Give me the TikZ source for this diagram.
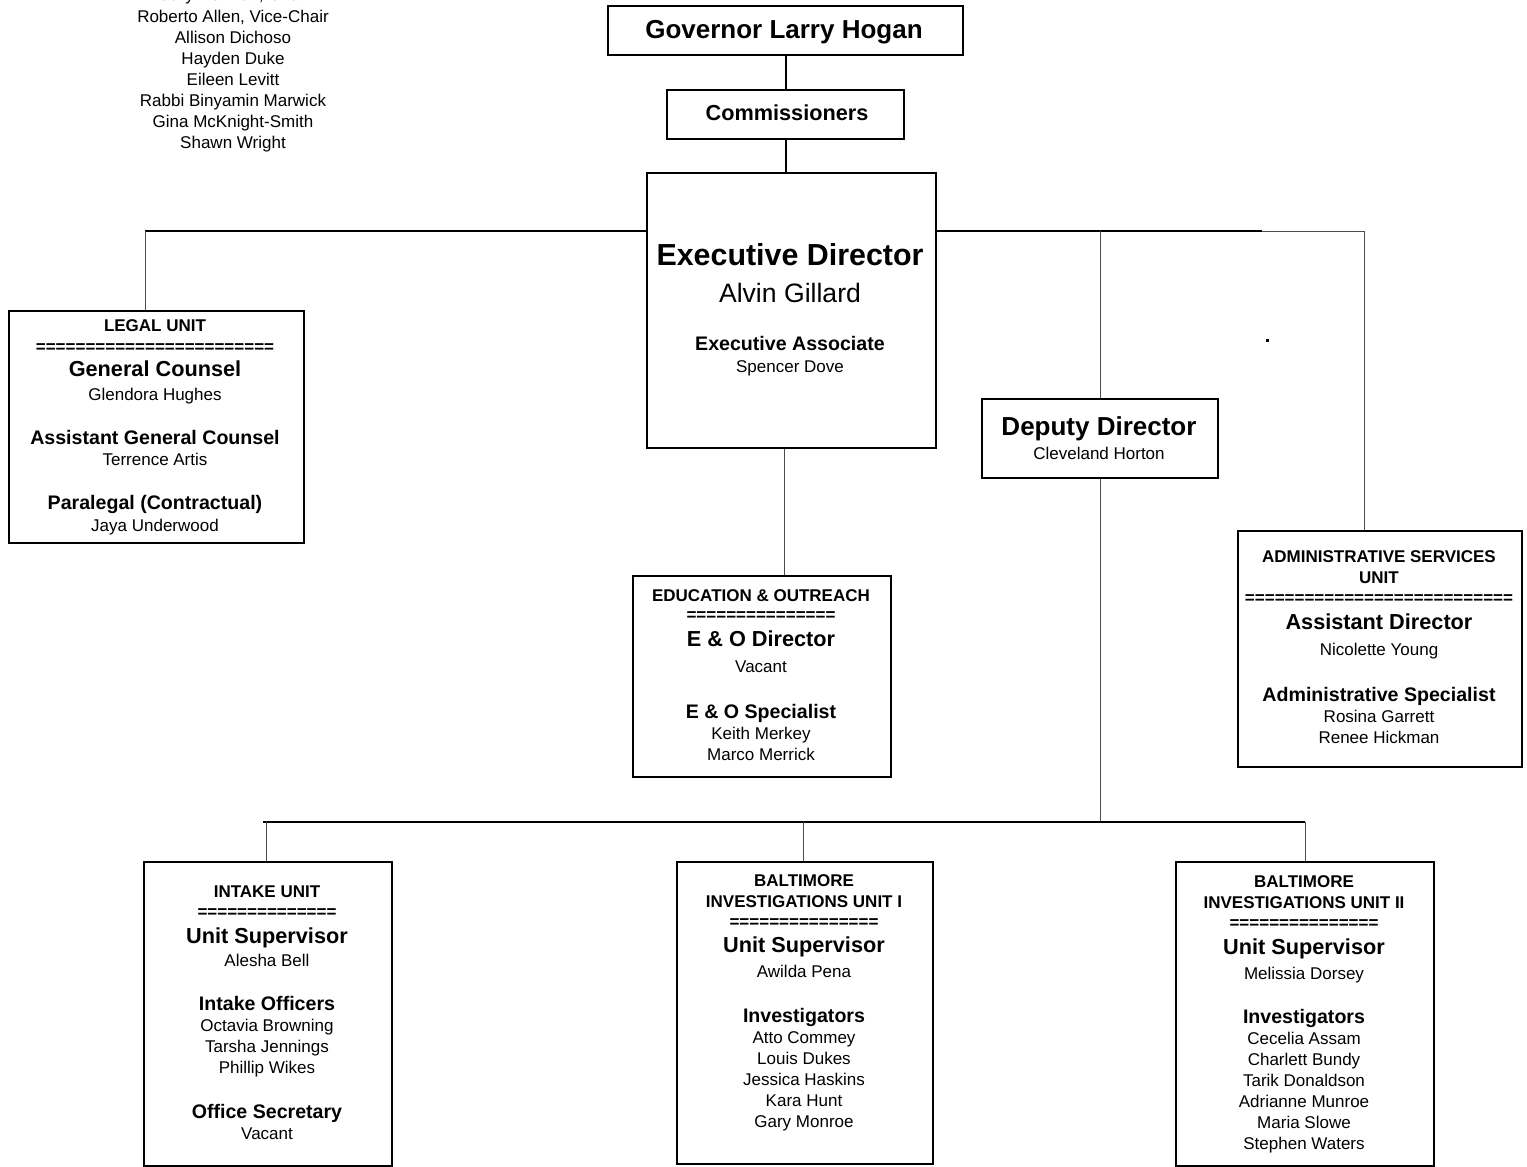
\documentclass[tikz,border=0pt]{standalone}
\usepackage{fontspec}
\setmainfont{Liberation Sans}
\newcommand\txl[5]{\node[#4] (#1) at (#2,#3) {#5};}
\tikzset{
  box/.style={draw=black, line width=2.2pt, anchor=north west, inner sep=0pt, fill=white},
  thickln/.style={draw=black, line width=2pt},
  thinln/.style={draw=black!70, line width=1pt},
  ln/.style={anchor=base, inner sep=0pt, outer sep=0pt},
  nm/.style={ln, font=\fontsize{17}{20}\selectfont, yshift=-6pt},
  hd/.style={ln, font=\bfseries\fontsize{17}{20}\selectfont, yshift=-6pt},
  eqs/.style={ln, font=\bfseries\fontsize{17}{20}\selectfont, yshift=-6pt},
  ta/.style={ln, font=\bfseries\fontsize{21.7}{26}\selectfont, yshift=-7.8pt},
  tb/.style={ln, font=\bfseries\fontsize{19.6}{24}\selectfont, yshift=-7pt},
  tbig/.style={ln, font=\bfseries\fontsize{26}{30}\selectfont, yshift=-9.3pt},
  texd/.style={ln, font=\bfseries\fontsize{30.4}{36}\selectfont, yshift=-10.9pt},
  nbig/.style={ln, font=\fontsize{26.6}{32}\selectfont, yshift=-9.5pt},
}
\begin{document}
\begin{tikzpicture}[x=1pt,y=-1pt]
\useasboundingbox[fill=white] (0,0) rectangle (1527,1167);

% ---------- boxes ----------
\node[box, minimum width=355pt, minimum height=49pt] (gov) at (607,5) {};
\node[box, minimum width=237pt, minimum height=49pt] (com) at (666,89) {};
\node[box, minimum width=289pt, minimum height=275pt] (ed) at (646,172) {};
\node[box, minimum width=236pt, minimum height=79pt] (dep) at (981,398) {};
\node[box, minimum width=295pt, minimum height=232pt] (legal) at (8,310) {};
\node[box, minimum width=258pt, minimum height=201pt] (eo) at (632,575) {};
\node[box, minimum width=284pt, minimum height=236pt] (admin) at (1237,530) {};
\node[box, minimum width=248pt, minimum height=304pt] (intake) at (143,861) {};
\node[box, minimum width=256pt, minimum height=302pt] (bone) at (676,861) {};
\node[box, minimum width=258pt, minimum height=304pt] (btwo) at (1175,861) {};

% ---------- junction coordinates ----------
\coordinate (jleft) at (145,231);
\coordinate (jmid) at (1262,231);
\coordinate (jright) at (1364,231);
\coordinate (jdep) at (1100,231);
\coordinate (jtop) at (784,231);
\coordinate (bl) at (263,822);
\coordinate (br) at (1305,822);
\coordinate (bdep) at (1100,822);

% ---------- connectors ----------
\draw[thickln] (gov.south) -- (com.north);
\draw[thickln] (com.south) -- (com.south |- ed.north);
\draw[thickln] (ed.west |- jleft) -- (jleft);
\draw[thinln] (jleft) -- (jleft |- legal.north);
\draw[thickln] (ed.east |- jmid) -- (jmid);
\draw[thinln] (jmid) -- (jright) -- (jright |- admin.north);
\draw[thinln] (jdep) -- (jdep |- dep.north);
\draw[thinln] (jtop |- ed.south) -- (jtop |- eo.north);
\draw[thinln] (dep.south -| bdep) -- (bdep);
\draw[thickln] (bl) -- (br);
\draw[thinln] (266,822) -- (266,861);
\draw[thinln] (803,822) -- (803,861);
\draw[thinln] (br) -- (br |- btwo.north);
\fill (1265.5,339) rectangle (1268.5,341.5);

% ---------- commissioner names ----------
\txl{c0}{233}{-5}{nm}{Gary Norman, Chair}
\txl{c1}{233}{16}{nm}{Roberto Allen, Vice-Chair}
\txl{c2}{233}{37}{nm}{Allison Dichoso}
\txl{c3}{233}{58}{nm}{Hayden Duke}
\txl{c4}{233}{79}{nm}{Eileen Levitt}
\txl{c5}{233}{100}{nm}{Rabbi Binyamin Marwick}
\txl{c6}{233}{121}{nm}{Gina McKnight-Smith}
\txl{c7}{233}{142}{nm}{Shawn Wright}

% ---------- top ----------
\txl{govt}{784}{29}{tbig}{Governor Larry Hogan}
\txl{comt}{787}{113}{ta}{Commissioners}

% ---------- executive director ----------
\txl{ed1}{790}{255}{texd}{Executive Director}
\txl{ed2}{790}{293}{nbig}{Alvin Gillard}
\txl{ed3}{790}{343}{tb}{Executive Associate}
\txl{ed4}{790}{366}{nm}{Spencer Dove}

% ---------- deputy ----------
\txl{dep1}{1099}{426}{tbig}{Deputy Director}
\txl{dep2}{1099}{453}{nm}{Cleveland Horton}

% ---------- legal ----------
\txl{leg1}{155}{325}{hd}{LEGAL UNIT}
\txl{leg2}{155}{346}{eqs}{========================}
\txl{leg3}{155}{369}{ta}{General Counsel}
\txl{leg4}{155}{394}{nm}{Glendora Hughes}
\txl{leg5}{155}{437}{tb}{Assistant General Counsel}
\txl{leg6}{155}{459}{nm}{Terrence Artis}
\txl{leg7}{155}{502}{tb}{Paralegal (Contractual)}
\txl{leg8}{155}{525}{nm}{Jaya Underwood}

% ---------- education & outreach ----------
\txl{eo1}{761}{595}{hd}{EDUCATION \& OUTREACH}
\txl{eo2}{761}{614}{eqs}{===============}
\txl{eo3}{761}{639}{ta}{E \& O Director}
\txl{eo4}{761}{666}{nm}{Vacant}
\txl{eo5}{761}{711}{tb}{E \& O Specialist}
\txl{eo6}{761}{733}{nm}{Keith Merkey}
\txl{eo7}{761}{754}{nm}{Marco Merrick}

% ---------- administrative ----------
\txl{ad1}{1379}{556}{hd}{ADMINISTRATIVE SERVICES}
\txl{ad2}{1379}{577}{hd}{UNIT}
\txl{ad3}{1379}{597}{eqs}{===========================}
\txl{ad4}{1379}{622}{ta}{Assistant Director}
\txl{ad5}{1379}{649}{nm}{Nicolette Young}
\txl{ad6}{1379}{694}{tb}{Administrative Specialist}
\txl{ad7}{1379}{716}{nm}{Rosina Garrett}
\txl{ad8}{1379}{737}{nm}{Renee Hickman}

% ---------- intake ----------
\txl{in1}{267}{891}{hd}{INTAKE UNIT}
\txl{in2}{267}{911}{eqs}{==============}
\txl{in3}{267}{936}{ta}{Unit Supervisor}
\txl{in4}{267}{960}{nm}{Alesha Bell}
\txl{in5}{267}{1003}{tb}{Intake Officers}
\txl{in6}{267}{1025}{nm}{Octavia Browning}
\txl{in7}{267}{1046}{nm}{Tarsha Jennings}
\txl{in8}{267}{1067}{nm}{Phillip Wikes}
\txl{in9}{267}{1111}{tb}{Office Secretary}
\txl{in10}{267}{1133}{nm}{Vacant}

% ---------- baltimore I ----------
\txl{ba1}{804}{880}{hd}{BALTIMORE}
\txl{ba2}{804}{901}{hd}{INVESTIGATIONS UNIT I}
\txl{ba3}{804}{921}{eqs}{===============}
\txl{ba4}{804}{945}{ta}{Unit Supervisor}
\txl{ba5}{804}{971}{nm}{Awilda Pena}
\txl{ba6}{804}{1015}{tb}{Investigators}
\txl{ba7}{804}{1037}{nm}{Atto Commey}
\txl{ba8}{804}{1058}{nm}{Louis Dukes}
\txl{ba9}{804}{1079}{nm}{Jessica Haskins}
\txl{ba10}{804}{1100}{nm}{Kara Hunt}
\txl{ba11}{804}{1121}{nm}{Gary Monroe}

% ---------- baltimore II ----------
\txl{bb1}{1304}{881}{hd}{BALTIMORE}
\txl{bb2}{1304}{902}{hd}{INVESTIGATIONS UNIT II}
\txl{bb3}{1304}{922}{eqs}{===============}
\txl{bb4}{1304}{947}{ta}{Unit Supervisor}
\txl{bb5}{1304}{973}{nm}{Melissia Dorsey}
\txl{bb6}{1304}{1016}{tb}{Investigators}
\txl{bb7}{1304}{1038}{nm}{Cecelia Assam}
\txl{bb8}{1304}{1059}{nm}{Charlett Bundy}
\txl{bb9}{1304}{1080}{nm}{Tarik Donaldson}
\txl{bb10}{1304}{1101}{nm}{Adrianne Munroe}
\txl{bb11}{1304}{1122}{nm}{Maria Slowe}
\txl{bb12}{1304}{1143}{nm}{Stephen Waters}
\end{tikzpicture}
\end{document}
